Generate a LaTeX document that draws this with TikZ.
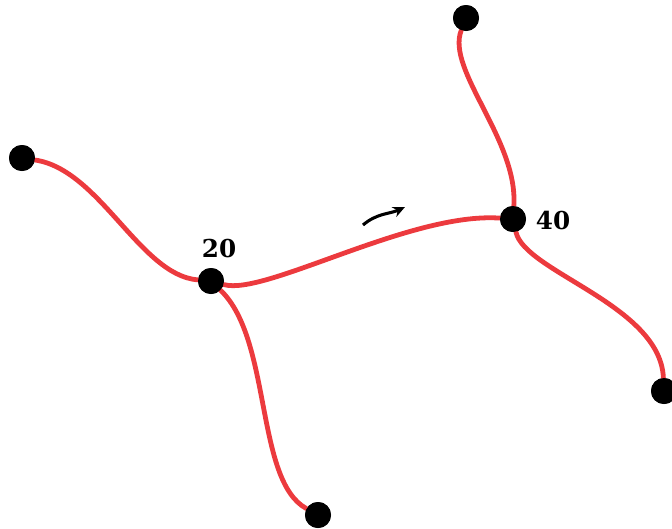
\documentclass[tikz,border=0pt]{standalone}
\usepackage{fontspec}
\newfontfamily\labelfont{DejaVu Serif}
\usetikzlibrary{arrows.meta}
\definecolor{roadred}{RGB}{236,58,62}

\tikzset{every picture/.style={line width=0.75pt}}
\tikzset{
  stop/.style={circle,fill=black,inner sep=0pt,minimum size=19.5pt},
  road/.style={draw=roadred,line width=3.6pt,line cap=round},
  ticket/.style={inner sep=0.75pt,font=\labelfont\bfseries\fontsize{18.5}{20}\selectfont}
}

\begin{document}
\begin{tikzpicture}[x=0.75pt,y=0.75pt,yscale=-1,xscale=1]
\useasboundingbox (0,0) rectangle (672,529);

% Stops
\node [stop] (west) at (22,158) {};
\node [stop] (hub20) at (211,281) {};
\node [stop] (south) at (318,515) {};
\node [stop] (north) at (466,18) {};
\node [stop] (hub40) at (513,219) {};
\node [stop] (east) at (664,391) {};

% Roads
\draw [road] (west) .. controls (100,170) and (140,275) .. (hub20);
\draw [road] (hub20) .. controls (265,296) and (410,212) .. (hub40);
\draw [road] (hub20) .. controls (272,340) and (255,480) .. (south);
\draw [road] (north) .. controls (446,70) and (518,140) .. (hub40);
\draw [road] (hub40) .. controls (525,272) and (660,305) .. (east);

% redraw the stops on top
\foreach \s in {west,hub20,south,north,hub40,east}
  \fill (\s) circle (13);

% Direction arrow
\coordinate (arrtail) at (363,225);
\coordinate (arrhead) at (405,207);
\draw [line width=2.3pt,-{Stealth[length=9pt,width=8pt]}] (arrtail) .. controls (377,213) and (390,214) .. (arrhead);

% Labels
\node [ticket] (lab20) at (219,249) {20};
\node [ticket] (lab40) at (553,221) {40};
\end{tikzpicture}
\end{document}
